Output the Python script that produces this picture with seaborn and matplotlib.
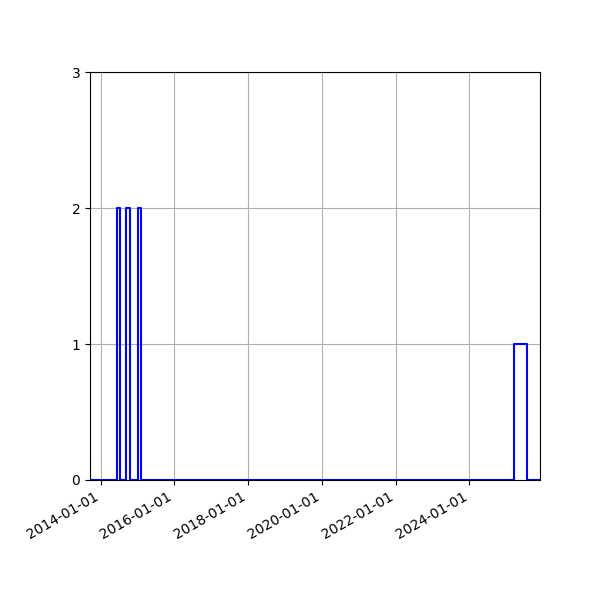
import matplotlib
matplotlib.use("Agg")
import matplotlib.dates as mdates
import matplotlib.pyplot as plt
import numpy as np
import pandas as pd
import seaborn as sns

# periods with activity and their count
period_start = ["2014-06-15", "2014-09-07", "2015-01-12", "2025-03-13"]
period_end = ["2014-07-08", "2014-10-17", "2015-02-06", "2025-07-20"]
period_count = [2, 2, 2, 1]

# shown date range
view_start = "2013-09-19"
view_end = "2025-11-29"

y_ticks = [0, 1, 2, 3]


if __name__ == '__main__':
    starts = mdates.date2num(pd.to_datetime(period_start))
    ends = mdates.date2num(pd.to_datetime(period_end))
    lo = float(mdates.date2num(pd.Timestamp(view_start)))
    hi = float(mdates.date2num(pd.Timestamp(view_end)))

    # bin edges: gaps between periods get a zero count
    edges = [lo]
    counts = []
    for s, e, c in zip(starts, ends, period_count):
        edges += [float(s), float(e)]
        counts += [0, c]
    edges.append(hi)
    counts.append(0)
    mids = [(a + b) / 2 for a, b in zip(edges[:-1], edges[1:])]
    df = pd.DataFrame({"date": mids, "count": counts})

    fig, ax = plt.subplots(figsize=(6, 6), dpi=100)
    sns.histplot(data=df, x="date", weights="count", bins=edges, element="step",
                 fill=False, color="blue", linewidth=1.5, ax=ax)

    ax.set_xlim(lo, hi)
    ax.set_ylim(0, 3)
    ax.set_yticks(y_ticks)
    ax.set_xlabel("")
    ax.set_ylabel("")
    ax.xaxis.set_major_locator(mdates.YearLocator(2))
    ax.xaxis.set_major_formatter(mdates.DateFormatter("%Y-%m-%d"))
    ax.grid(True)
    fig.autofmt_xdate()
    fig.subplots_adjust(left=0.15, right=0.9, top=0.88, bottom=0.2)
    plt.savefig("out.png")
